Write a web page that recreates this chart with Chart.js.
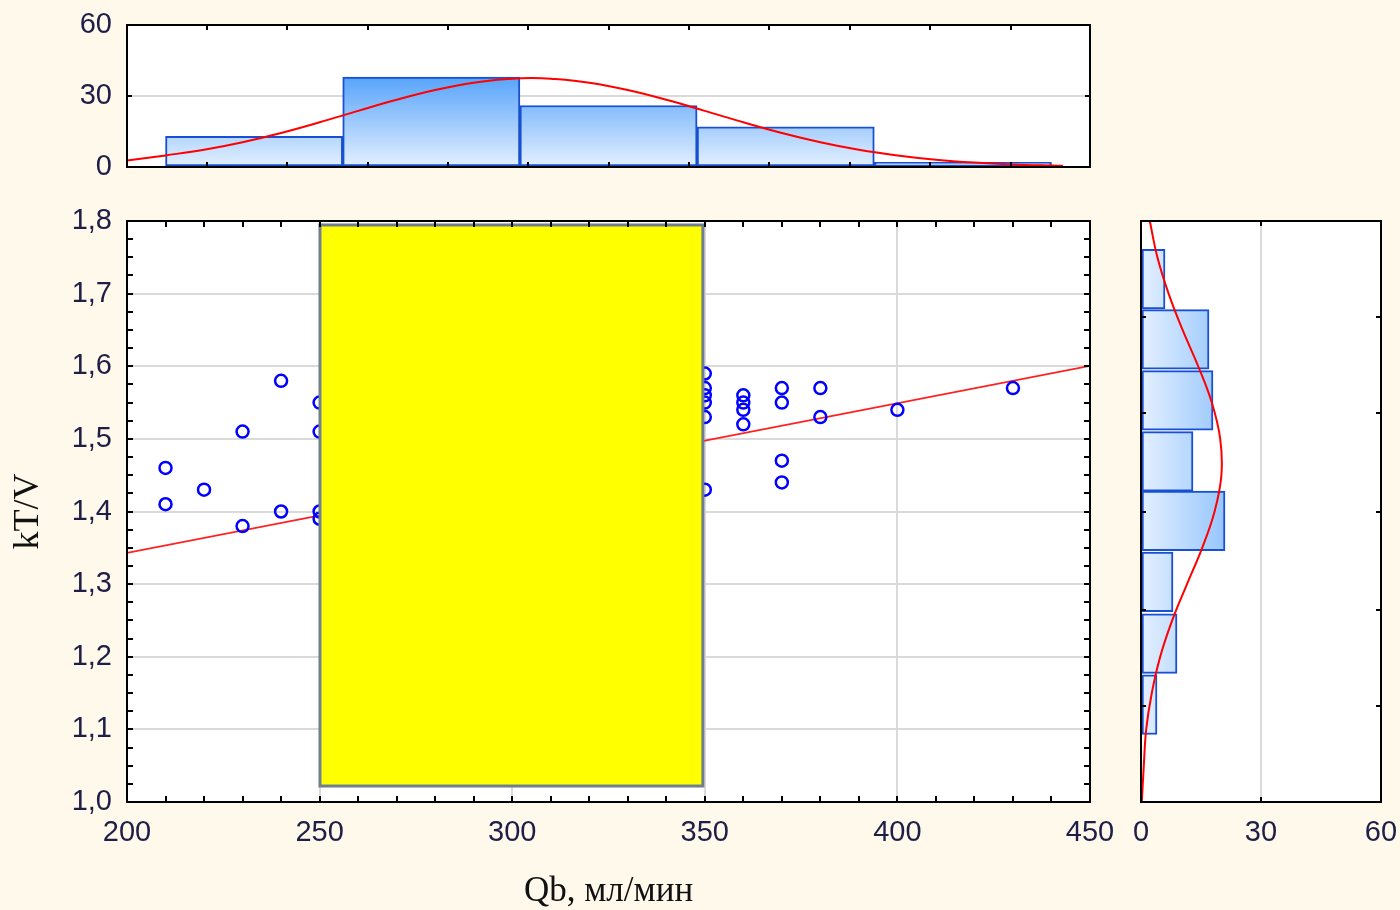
<!DOCTYPE html>
<html>
<head>
<meta charset="utf-8">
<script src="https://cdn.jsdelivr.net/npm/chart.js@4.4.1/dist/chart.umd.min.js"></script>
<style>
  html, body { margin: 0; padding: 0; background: #fff9ec; }
  #wrap { position: relative; width: 1400px; height: 910px; }
  canvas { position: absolute; left: 0; top: 0; }
</style>
</head>
<body>
<div id="wrap">
  <canvas id="topHist" width="1400" height="910"></canvas>
  <canvas id="mainChart" width="1400" height="910"></canvas>
  <canvas id="rightHist" width="1400" height="910"></canvas>
</div>
<script>
// scatter: Qb vs kT/V (only the points not hidden by the yellow box)
const qbValues  = [210, 210, 220, 230, 230, 240, 240, 250, 250, 250, 250,
                   350, 350, 350, 350, 350, 350, 360, 360, 360, 360,
                   370, 370, 370, 370, 380, 380, 400, 430];
const ktvValues = [1.46, 1.41, 1.43, 1.51, 1.38, 1.58, 1.40, 1.55, 1.51, 1.40, 1.39,
                   1.59, 1.57, 1.56, 1.55, 1.53, 1.43, 1.56, 1.55, 1.54, 1.52,
                   1.57, 1.55, 1.47, 1.44, 1.57, 1.53, 1.54, 1.57];

// regression line end points
const fitQb  = [200, 450];
const fitKtv = [1.343, 1.6005];

// histogram of Qb (top)
const qbBinCenters = [233, 279, 325, 371, 417];
const qbBinCounts  = [13, 38, 26, 17, 2];
const qbCurveX = [200, 210, 220, 230, 240, 250, 260, 270, 280, 290, 300, 305, 310, 320,
                  330, 340, 350, 360, 370, 380, 390, 400, 410, 420, 430, 440, 443];
const qbCurveY = [2.7, 4.9, 7.3, 10.5, 14.4, 18.9, 23.7, 28.4, 32.5, 35.6, 37.3, 37.6, 37.3, 35.6,
                  32.5, 28.4, 23.7, 18.9, 14.4, 10.5, 7.3, 4.9, 3.1, 1.9, 1.1, 0.6, 0.5];

// histogram of kT/V (right)
const ktvBinCenters = [1.134, 1.218, 1.303, 1.387, 1.469, 1.553, 1.637, 1.720];
const ktvBinCounts  = [4, 9, 8, 21, 13, 18, 17, 6];
const ktvCurveY = [1.00, 1.05, 1.10, 1.15, 1.20, 1.25, 1.30, 1.35, 1.40,
                   1.45, 1.50, 1.55, 1.60, 1.65, 1.70, 1.75, 1.80];
const ktvCurveX = [0.2, 0.7, 1.3, 2.7, 4.8, 7.8, 11.5, 15.3, 18.4,
                   20.1, 19.8, 17.7, 14.3, 10.4, 6.9, 4.1, 2.2];

// yellow box covering part of the scatter
const maskQb  = [250.1, 349.5];
const maskKtv = [1.022, 1.7945];

const countTicks = [0, 30, 60];

const tickFont = { family: 'Liberation Sans', size: 29 };
const tickColor = '#1e1e46';
const gridColor = '#dadada';

function zip(xs, ys) {
    return xs.map((x, i) => ({ x: x, y: ys[i] }));
}

// fixed axis sizes so the three plot frames line up
function fitLeftAxis(s) {
    s.width = 127;
    s.paddingTop = 0;
    s.paddingBottom = 0;
}
function fitBottomAxis(s) {
    s.height = 108;
    s.paddingLeft = 0;
    s.paddingRight = 0;
}

const framePlugin = {
    id: 'frame',
    beforeDraw(chart) {
        const a = chart.chartArea;
        const ctx = chart.ctx;
        ctx.save();
        ctx.fillStyle = '#ffffff';
        ctx.fillRect(a.left, a.top, a.width, a.height);
        ctx.restore();
    },
    afterDraw(chart, args, opts) {
        const ctx = chart.ctx;
        const a = chart.chartArea;
        const len = opts.len || 6;
        ctx.save();
        ctx.strokeStyle = '#000';
        ctx.lineWidth = 2;
        ctx.beginPath();
        (opts.xTicks || []).forEach(v => {
            const px = Math.round(chart.scales.x.getPixelForValue(v));
            ctx.moveTo(px, a.top); ctx.lineTo(px, a.top + len);
            ctx.moveTo(px, a.bottom); ctx.lineTo(px, a.bottom - len);
        });
        (opts.yTicks || []).forEach(v => {
            const py = Math.round(chart.scales.y.getPixelForValue(v));
            ctx.moveTo(a.left, py); ctx.lineTo(a.left + len, py);
            ctx.moveTo(a.right, py); ctx.lineTo(a.right - len, py);
        });
        ctx.stroke();
        ctx.strokeRect(a.left, a.top, a.width, a.height);
        ctx.restore();
    }
};

const maskPlugin = {
    id: 'mask',
    afterDatasetsDraw(chart) {
        const ctx = chart.ctx;
        const x0 = chart.scales.x.getPixelForValue(maskQb[0]);
        const x1 = chart.scales.x.getPixelForValue(maskQb[1]);
        const y0 = chart.scales.y.getPixelForValue(maskKtv[1]);
        const y1 = chart.scales.y.getPixelForValue(maskKtv[0]);
        ctx.save();
        ctx.fillStyle = '#ffff00';
        ctx.fillRect(x0, y0, x1 - x0, y1 - y0);
        ctx.strokeStyle = '#6f7f90';
        ctx.lineWidth = 3;
        ctx.strokeRect(x0, y0, x1 - x0, y1 - y0);
        ctx.restore();
    }
};

function barGradient(context, horizontal) {
    const chart = context.chart;
    if (!chart.chartArea) return 'rgba(150,200,250,1)';
    let g;
    if (horizontal) {
        const sx = chart.scales.x;
        g = chart.ctx.createLinearGradient(sx.getPixelForValue(0), 0, sx.getPixelForValue(40), 0);
    } else {
        const sy = chart.scales.y;
        g = chart.ctx.createLinearGradient(0, sy.getPixelForValue(0), 0, sy.getPixelForValue(40));
    }
    g.addColorStop(0, 'rgb(228,240,255)');
    g.addColorStop(1, 'rgb(80,160,250)');
    return g;
}

const mainTicksX = [];
for (let v = 200; v <= 450; v += 10) mainTicksX.push(v);
const mainTicksY = [];
for (let i = 0; i <= 32; i++) mainTicksY.push(1 + i * 0.025);
const topTicksX = [];
for (let i = 0; i <= 10; i++) topTicksX.push(220.7 + i * 20.87);

function buildTopHist() {
    new Chart(document.getElementById('topHist'), {
        type: 'bar',
        data: {
            datasets: [{
                type: 'line',
                data: zip(qbCurveX, qbCurveY),
                borderColor: '#ff0000',
                borderWidth: 2,
                pointRadius: 0,
                tension: 0.4,
                order: 0
            }, {
                type: 'bar',
                data: zip(qbBinCenters, qbBinCounts),
                backgroundColor: ctx => barGradient(ctx, false),
                borderColor: 'rgb(25,80,210)',
                borderWidth: 2,
                borderSkipped: false,
                barPercentage: 1,
                categoryPercentage: 1,
                order: 1
            }]
        },
        options: {
            responsive: false,
            animation: false,
            layout: { padding: { left: 0, top: 25, right: 310, bottom: 743 } },
            plugins: {
                legend: { display: false },
                tooltip: { enabled: false },
                frame: { xTicks: topTicksX, yTicks: [30], len: 5 }
            },
            scales: {
                x: { type: 'linear', display: false, min: 200, max: 450, offset: false },
                y: {
                    min: 0, max: 60,
                    afterFit: fitLeftAxis,
                    afterBuildTicks: s => { s.ticks = countTicks.map(v => ({ value: v })); },
                    ticks: { padding: 15, font: tickFont, color: tickColor },
                    grid: { color: gridColor, lineWidth: 2, drawTicks: false },
                    border: { display: false }
                }
            }
        },
        plugins: [framePlugin]
    });
}

function buildMain() {
    new Chart(document.getElementById('mainChart'), {
        type: 'scatter',
        data: {
            datasets: [{
                type: 'line',
                data: zip(fitQb, fitKtv),
                borderColor: '#ff2020',
                borderWidth: 1.8,
                pointRadius: 0,
                order: 1
            }, {
                type: 'scatter',
                data: zip(qbValues, ktvValues),
                pointStyle: 'circle',
                pointRadius: 6,
                borderColor: '#0000ff',
                borderWidth: 2.5,
                backgroundColor: 'rgba(0,0,0,0)',
                order: 0
            }]
        },
        options: {
            responsive: false,
            animation: false,
            layout: { padding: { left: 0, top: 221, right: 310, bottom: 0 } },
            plugins: {
                legend: { display: false },
                tooltip: { enabled: false },
                frame: { xTicks: mainTicksX, yTicks: mainTicksY, len: 6 }
            },
            scales: {
                x: {
                    type: 'linear', min: 200, max: 450,
                    afterFit: fitBottomAxis,
                    ticks: { stepSize: 50, padding: 14, font: tickFont, color: tickColor },
                    grid: { color: gridColor, lineWidth: 2, drawTicks: false },
                    border: { display: false },
                    title: {
                        display: true, text: 'Qb, мл/мин', color: '#111',
                        font: { family: 'Liberation Serif', size: 35, lineHeight: 1 },
                        padding: { top: 0, bottom: 1 }
                    }
                },
                y: {
                    type: 'linear', min: 1.0, max: 1.8,
                    afterFit: fitLeftAxis,
                    ticks: {
                        stepSize: 0.1, padding: 15, font: tickFont, color: tickColor,
                        callback: v => v.toFixed(1).replace('.', ',')
                    },
                    grid: { color: gridColor, lineWidth: 2, drawTicks: false },
                    border: { display: false },
                    title: {
                        display: true, text: 'kT/V', color: '#111',
                        font: { family: 'Liberation Serif', size: 36, lineHeight: 1 },
                        padding: { top: 11, bottom: 0 }
                    }
                }
            }
        },
        plugins: [framePlugin, maskPlugin]
    });
}

function buildRightHist() {
    new Chart(document.getElementById('rightHist'), {
        type: 'bar',
        data: {
            datasets: [{
                type: 'line',
                data: zip(ktvCurveX, ktvCurveY),
                borderColor: '#ff0000',
                borderWidth: 2,
                pointRadius: 0,
                tension: 0.4,
                order: 0
            }, {
                type: 'bar',
                data: zip(ktvBinCounts, ktvBinCenters),
                backgroundColor: ctx => barGradient(ctx, true),
                borderColor: 'rgb(25,80,210)',
                borderWidth: 2,
                borderSkipped: false,
                barPercentage: 1,
                categoryPercentage: 1,
                order: 1
            }]
        },
        options: {
            indexAxis: 'y',
            responsive: false,
            animation: false,
            layout: { padding: { left: 1141, top: 221, right: 19, bottom: 0 } },
            plugins: {
                legend: { display: false },
                tooltip: { enabled: false },
                frame: { xTicks: [30], yTicks: [1.132, 1.265, 1.399, 1.535, 1.668], len: 5 }
            },
            scales: {
                y: { type: 'linear', display: false, min: 1.0, max: 1.8, offset: false },
                x: {
                    type: 'linear', min: 0, max: 60,
                    afterFit: fitBottomAxis,
                    afterBuildTicks: s => { s.ticks = countTicks.map(v => ({ value: v })); },
                    ticks: { padding: 14, font: tickFont, color: tickColor },
                    grid: { color: gridColor, lineWidth: 2, drawTicks: false },
                    border: { display: false }
                }
            }
        },
        plugins: [framePlugin]
    });
}

document.addEventListener('DOMContentLoaded', function () {
    buildTopHist();
    buildMain();
    buildRightHist();
});
</script>
</body>
</html>
